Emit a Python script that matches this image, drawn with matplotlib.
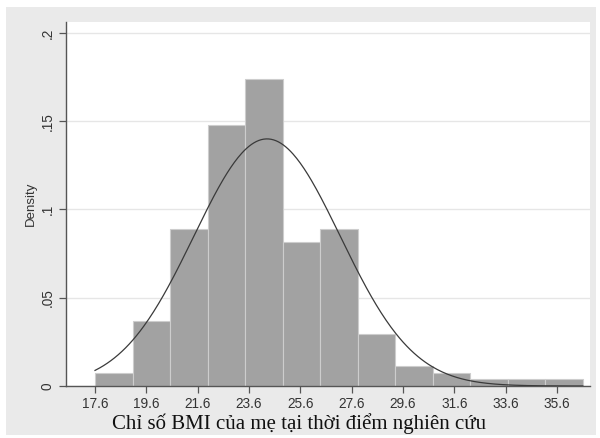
import numpy as np
import matplotlib
matplotlib.use("Agg")
import matplotlib.pyplot as plt
from matplotlib.patches import Rectangle

# Histogram of maternal BMI (density scale), 13 equal-width bins
bin_start = 17.6
bin_width = 1.4615
densities = [0.0074, 0.0370, 0.0888, 0.1480, 0.1740, 0.0814, 0.0888,
             0.0296, 0.0111, 0.0074, 0.0037, 0.0037, 0.0037]

# Normal density overlay parameters
norm_mean = 24.3
norm_sd = 2.85

x_ticks = [17.6, 19.6, 21.6, 23.6, 25.6, 27.6, 29.6, 31.6, 33.6, 35.6]
x_tick_labels = ["17.6", "19.6", "21.6", "23.6", "25.6", "27.6", "29.6", "31.6", "33.6", "35.6"]
y_ticks = [0, 0.05, 0.1, 0.15, 0.2]
y_tick_labels = ["0", ".05", ".1", ".15", ".2"]

x_label = "Chỉ số BMI của mẹ tại thời điểm nghiên cứu"
y_label = "Density"

W, H = 600, 438
fig = plt.figure(figsize=(W / 100, H / 100), dpi=100, facecolor="white")

# grey graph region inside a thin white border
bg = Rectangle((6 / W, 3 / H), 590 / W, 428 / H,
               transform=fig.transFigure, facecolor="#eaeaea",
               edgecolor="none", zorder=-10)
fig.add_artist(bg)

ax = fig.add_axes([66 / W, 1 - 386 / H, (590 - 66) / W, (386 - 22) / H])
ax.set_zorder(5)
ax.set_facecolor("white")

edges = bin_start + bin_width * np.arange(len(densities) + 1)
ax.bar(edges[:-1], densities, width=bin_width, align="edge",
       color="#a2a2a2", edgecolor="#cdcdcd", linewidth=0.8, zorder=2)

xs = np.linspace(edges[0], edges[-1], 400)
pdf = np.exp(-0.5 * ((xs - norm_mean) / norm_sd) ** 2) / (norm_sd * np.sqrt(2 * np.pi))
ax.plot(xs, pdf, color="#3a3a3a", linewidth=0.9, zorder=3)

ax.set_xlim(16.47, 36.88)
ax.set_ylim(0, 0.2062)

ax.set_yticks(y_ticks)
ax.set_yticklabels(y_tick_labels, rotation=90, va="center",
                   fontsize=9.8, color="#333333", family="Liberation Sans")
ax.set_xticks(x_ticks)
ax.set_xticklabels(x_tick_labels, fontsize=9.8, color="#333333",
                   family="Liberation Sans")
ax.yaxis.grid(True, color="#e6e6e6", linewidth=1.0, zorder=0)
ax.set_axisbelow(True)

for side in ("top", "right"):
    ax.spines[side].set_visible(False)
for side in ("left", "bottom"):
    ax.spines[side].set_color("#555555")
    ax.spines[side].set_linewidth(1.0)
ax.tick_params(axis="both", direction="out", length=5, width=0.9,
               color="#555555", pad=3)

ax.set_ylabel(y_label, fontsize=9.5, color="#333333",
              family="Liberation Sans", labelpad=3)

# x-axis title, centred on the graph region
fig.text(299 / W, 1 - 424 / H, x_label, fontsize=15, color="#111111",
         family="Liberation Serif", ha="center", va="center")

fig.savefig("out.png", dpi=100)
